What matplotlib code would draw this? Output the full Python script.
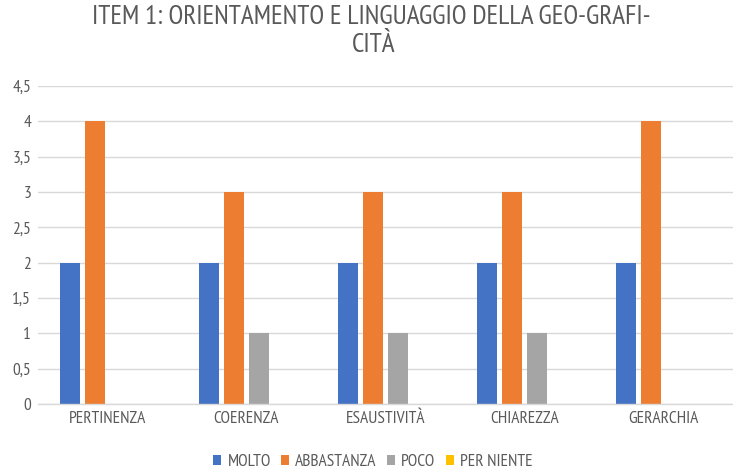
import numpy as np
import matplotlib
matplotlib.use("Agg")
import matplotlib.pyplot as plt
from matplotlib.ticker import FuncFormatter

categories = ["PERTINENZA", "COERENZA", "ESAUSTIVITÀ", "CHIAREZZA", "GERARCHIA"]
series_names = ["MOLTO", "ABBASTANZA", "POCO", "PER NIENTE"]
molto = [2, 2, 2, 2, 2]
abbastanza = [4, 3, 3, 3, 4]
poco = [0, 1, 1, 1, 0]
per_niente = [0, 0, 0, 0, 0]
yticks = [0, 0.5, 1, 1.5, 2, 2.5, 3, 3.5, 4, 4.5]
title_lines = ["ITEM 1: ORIENTAMENTO E LINGUAGGIO DELLA GEO-GRAFI-", "CITÀ"]

colors = ["#4472C4", "#ED7D31", "#A5A5A5", "#FFC000"]
text_color = "#595959"
grid_color = "#D9D9D9"

plt.rcParams["font.family"] = ["PT Sans Narrow", "Carlito", "DejaVu Sans"]

W, H = 733, 473
fig = plt.figure(figsize=(W / 100, H / 100), dpi=100, facecolor="white")
ax = fig.add_axes([38 / W, 69 / H, 1 - 38 / W, 318 / H])

x = np.arange(len(categories))
pitch = 0.18
width = 0.144
for i, (name, vals) in enumerate(zip(series_names, [molto, abbastanza, poco, per_niente])):
    ax.bar(x + (i - 1.5) * pitch, vals, width=width, color=colors[i], label=name, zorder=3)

ax.set_xlim(-0.5, len(categories) - 0.5)
ax.set_ylim(0, 4.5)
ax.set_yticks(yticks)
ax.yaxis.set_major_formatter(FuncFormatter(lambda v, p: f"{v:g}".replace(".", ",")))
ax.set_xticks(x)
ax.set_xticklabels(categories)
ax.tick_params(axis="both", length=0, colors=text_color, labelsize=12.5)
ax.tick_params(axis="x", pad=5)
ax.tick_params(axis="y", pad=5)
ax.grid(axis="y", color=grid_color, linewidth=1, zorder=0)
for s in ["top", "right", "left"]:
    ax.spines[s].set_visible(False)
ax.spines["bottom"].set_color(grid_color)
ax.spines["bottom"].set_linewidth(1)
ax.spines["bottom"].set_zorder(4)

# title, two centred lines as in the source
fig.text(371 / W, 1 - 24 / H, title_lines[0], ha="center", va="baseline",
         fontsize=19.5, color=text_color)
fig.text(374 / W, 1 - 52 / H, title_lines[1], ha="center", va="baseline",
         fontsize=19.5, color=text_color)

leg = fig.legend(loc="center", bbox_to_anchor=(373 / W, 1 - 462 / H), ncol=4, frameon=False,
                 fontsize=12.5, handlelength=0.46, handleheight=0.46, handletextpad=0.35,
                 columnspacing=0.6, labelcolor=text_color, borderpad=0)

fig.savefig("out.png", dpi=100, facecolor="white")
